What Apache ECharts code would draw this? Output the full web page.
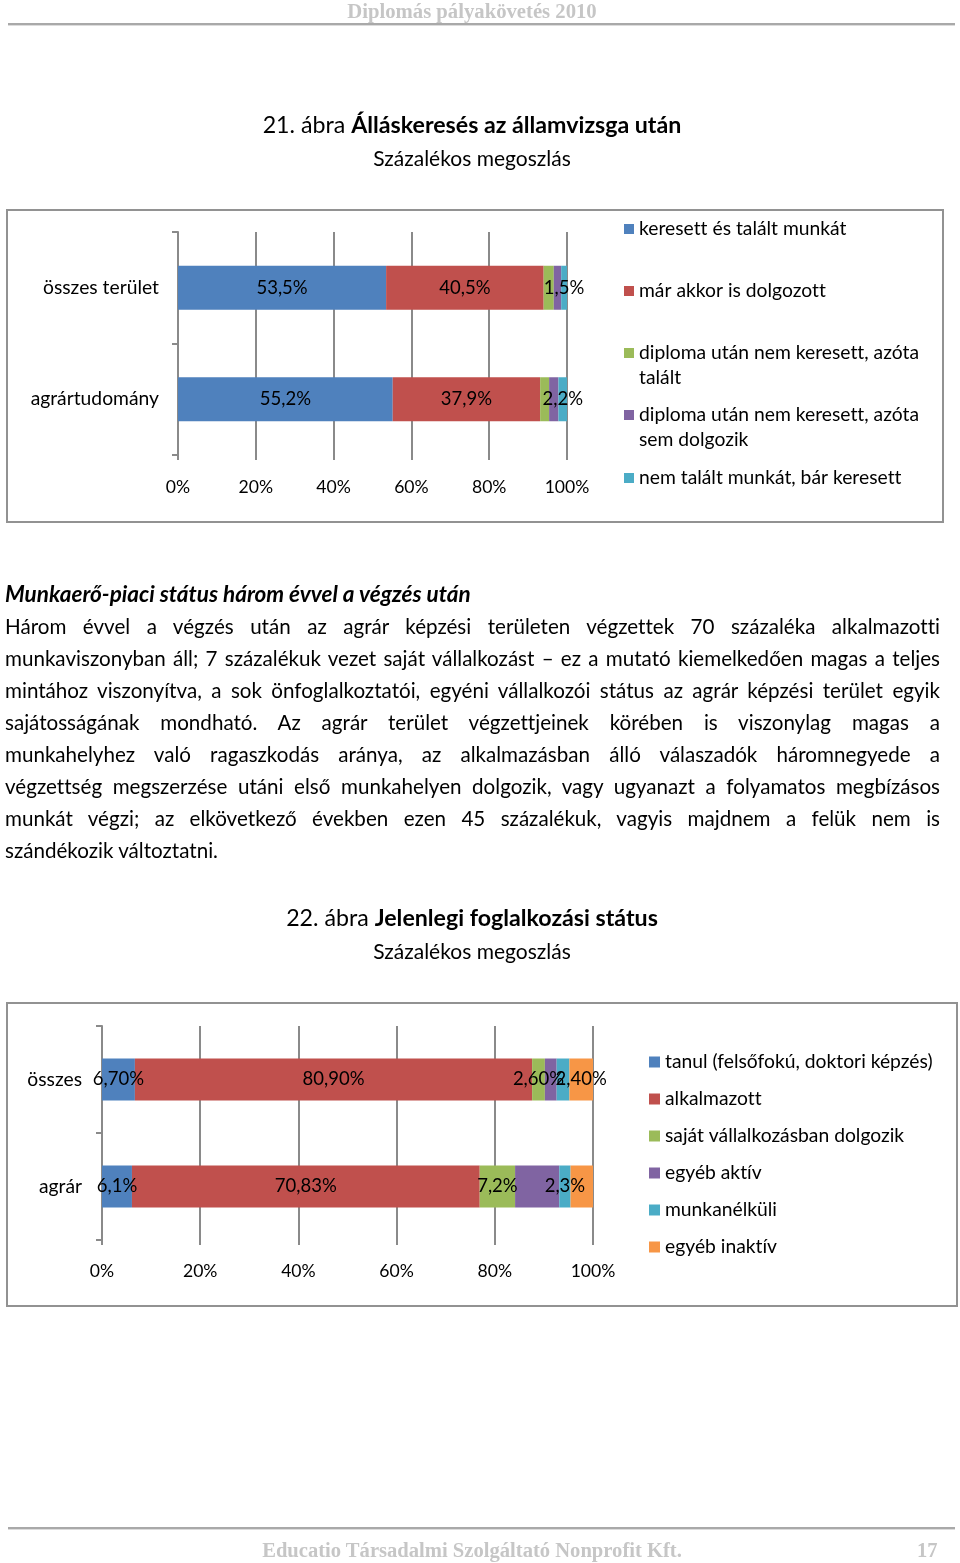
<!DOCTYPE html>
<html>
<head>
<meta charset="utf-8">
<script src="https://cdn.jsdelivr.net/npm/echarts@6/dist/echarts.min.js"></script>
<style>
  html, body { margin: 0; padding: 0; background: #fff; }
  #page { position: relative; width: 960px; height: 1563px; overflow: hidden; font-family: Lato, "Noto Sans", sans-serif; color: #000; font-variant-ligatures: none; }
  #chart { position: absolute; left: 0; top: 0; width: 960px; height: 1563px; }
  .t { position: absolute; white-space: nowrap; }
  .c { left: 0; width: 944px; text-align: center; }
  .box { position: absolute; border: 2px solid #929292; box-sizing: border-box; }
  .hr { position: absolute; left: 8px; width: 947px; height: 2px; background: #a9a9a9; border-bottom: 1px solid #dcdcdc; }
  .serif { font-family: "Liberation Serif", "DejaVu Serif", serif; font-weight: bold; color: #c6c6c6; }
  .pl { position: absolute; left: 5px; width: 935px; height: 32px; line-height: 32px; font-size: 20.6px; white-space: nowrap; text-align: justify; text-align-last: justify; }
</style>
</head>
<body>
<div id="page">
  <div class="box" style="left:6px;top:209px;width:938px;height:314px;"></div>
  <div class="box" style="left:6px;top:1002px;width:952px;height:305px;"></div>
  <div id="chart"></div>

  <div class="t c serif" style="top:0px;height:22px;line-height:22px;font-size:20.7px;">Diplomás pályakövetés 2010</div>
  <div class="hr" style="top:23px;"></div>

  <div class="t c" style="top:110px;height:28px;line-height:28px;font-size:23.2px;">21. ábra <b>Álláskeresés az államvizsga után</b></div>
  <div class="t c" style="top:144px;height:28px;line-height:28px;font-size:21px;">Százalékos megoszlás</div>

  <div class="t" style="left:5px;top:578px;height:32px;line-height:32px;font-size:22.5px;font-weight:bold;font-style:italic;">Munkaerő-piaci státus három évvel a végzés után</div>
  <div id="para"></div>

  <div class="t c" style="top:903px;height:28px;line-height:28px;font-size:23.2px;">22. ábra <b>Jelenlegi foglalkozási státus</b></div>
  <div class="t c" style="top:937px;height:28px;line-height:28px;font-size:21px;">Százalékos megoszlás</div>

  <div class="hr" style="top:1527px;"></div>
  <div class="t c serif" style="top:1538px;height:24px;line-height:24px;font-size:20.6px;">Educatio Társadalmi Szolgáltató Nonprofit Kft.</div>
  <div class="t serif" style="left:917px;top:1538px;height:24px;line-height:24px;font-size:20.6px;">17</div>
</div>
<script>
// ---------- text of the page ----------
const paragraphLines = [
  'Három évvel a végzés után az agrár képzési területen végzettek 70 százaléka alkalmazotti',
  'munkaviszonyban áll; 7 százalékuk vezet saját vállalkozást – ez a mutató kiemelkedően magas a teljes',
  'mintához viszonyítva, a sok önfoglalkoztatói, egyéni vállalkozói státus az agrár képzési terület egyik',
  'sajátosságának mondható. Az agrár terület végzettjeinek körében is viszonylag magas a',
  'munkahelyhez való ragaszkodás aránya, az alkalmazásban álló válaszadók háromnegyede a',
  'végzettség megszerzése utáni első munkahelyen dolgozik, vagy ugyanazt a folyamatos megbízásos',
  'munkát végzi; az elkövetkező években ezen 45 százalékuk, vagyis majdnem a felük nem is',
  'szándékozik változtatni.'
];

// ---------- chart 21 data ----------
const cats1 = ['összes terület', 'agrártudomány'];
const names1 = [
  'keresett és talált munkát',
  'már akkor is dolgozott',
  'diploma után nem keresett, azóta talált',
  'diploma után nem keresett, azóta sem dolgozik',
  'nem talált munkát, bár keresett'
];
const legendLines1 = [
  ['keresett és talált munkát'],
  ['már akkor is dolgozott'],
  ['diploma után nem keresett, azóta', 'talált'],
  ['diploma után nem keresett, azóta', 'sem dolgozik'],
  ['nem talált munkát, bár keresett']
];
const found1 = [53.5, 55.2];
const working1 = [40.5, 37.9];
const notSearchedFound1 = [2.6, 2.3];
const notSearchedNotWorking1 = [1.9, 2.4];
const notFound1 = [1.5, 2.2];
const labelled1 = [true, true, false, false, true];

// ---------- chart 22 data ----------
const cats2 = ['összes', 'agrár'];
const names2 = [
  'tanul (felsőfokú, doktori képzés)',
  'alkalmazott',
  'saját vállalkozásban dolgozik',
  'egyéb aktív',
  'munkanélküli',
  'egyéb inaktív'
];
const studying2 = [6.7, 6.1];
const employed2 = [80.9, 70.83];
const ownBusiness2 = [2.6, 7.2];
const otherActive2 = [2.4, 9.0];
const unemployed2 = [2.6, 2.3];
const otherInactive2 = [4.8, 4.57];
const labels2 = [
  ['6,70%', '6,1%'],
  ['80,90%', '70,83%'],
  ['2,60%', '7,2%'],
  ['', ''],
  ['', '2,3%'],
  ['2,40%', '']
];

const tickValues = [0, 20, 40, 60, 80, 100];
const colors = ['#4F81BD', '#C0504D', '#9BBB59', '#8064A2', '#4BACC6', '#F79646'];

// ---------- paragraph ----------
const para = document.getElementById('para');
paragraphLines.forEach((line, i) => {
  const d = document.createElement('div');
  d.className = 'pl';
  d.style.top = (610 + i * 32) + 'px';
  if (i === paragraphLines.length - 1) { d.style.textAlign = 'left'; d.style.textAlignLast = 'left'; }
  d.textContent = line;
  para.appendChild(d);
});
// fit lines that are too long
document.querySelectorAll('.pl').forEach(d => {
  let ls = 0;
  while (d.scrollWidth > 935 && ls > -1.5) { ls -= 0.05; d.style.letterSpacing = ls + 'px'; }
});

// ---------- chart ----------
const font = 'Lato';
const gridColor = '#8a8a8a';
const textSize = 19.3;
const numSize = 18.5;
const tickSize = 17.6;
const vals1 = [found1, working1, notSearchedFound1, notSearchedNotWorking1, notFound1];
const vals2 = [studying2, employed2, ownBusiness2, otherActive2, unemployed2, otherInactive2];

function fmt1(v) { return v.toFixed(1).replace('.', ',') + '%'; }

function xAxisOf(grid, margin) {
  return {
    type: 'value', gridIndex: grid, min: 0, max: 100, interval: 20,
    axisLine: { show: false },
    axisTick: { show: true, length: 5, lineStyle: { color: gridColor, width: 2 } },
    splitLine: { show: true, lineStyle: { color: gridColor, width: 2 } },
    axisLabel: { formatter: v => v + '%', color: '#000', fontFamily: font, fontSize: tickSize, margin: margin, customValues: tickValues }
  };
}
function yAxisOf(grid, cats, margin) {
  return {
    type: 'category', gridIndex: grid, data: cats, inverse: true,
    axisLine: { show: true, lineStyle: { color: gridColor, width: 2 } },
    axisTick: { show: true, length: 6, lineStyle: { color: gridColor, width: 2 } },
    axisLabel: { color: '#000', fontFamily: font, fontSize: textSize, margin: margin }
  };
}

const series = [];
vals1.forEach((arr, k) => {
  series.push({
    type: 'bar', name: names1[k], stack: 's1', xAxisIndex: 0, yAxisIndex: 0,
    data: arr, barWidth: 44, itemStyle: { color: colors[k] },
    label: { show: labelled1[k], position: 'inside', color: '#000', fontFamily: font, fontSize: numSize,
             formatter: p => fmt1(p.value) },
    emphasis: { disabled: true }, animation: false
  });
});
vals2.forEach((arr, k) => {
  series.push({
    type: 'bar', name: names2[k], stack: 's2', xAxisIndex: 1, yAxisIndex: 1,
    data: arr, barWidth: 42, itemStyle: { color: colors[k] },
    label: { show: true, position: 'inside', color: '#000', fontFamily: font, fontSize: numSize,
             formatter: p => labels2[k][p.dataIndex] },
    emphasis: { disabled: true }, animation: false
  });
});

// legends for chart 21: one per item, so each row sits where the reference has it
const legendRows1 = [229, 291, 353, 415, 478];
const legends = names1.map((n, k) => {
  const twoLines = legendLines1[k].length > 1;
  return {
    data: [{ name: n, icon: twoLines ? 'path://M0,0L10,0L10,10L0,10ZM10,35' : 'rect' }],
    left: 624, top: legendRows1[k] - 12.5, padding: 0,
    itemWidth: 10, itemHeight: twoLines ? 35 : 10,
    selectedMode: false,
    formatter: name => legendLines1[names1.indexOf(name)].join('\n'),
    textStyle: { color: '#000', fontFamily: font, fontSize: textSize, lineHeight: 25 }
  };
});
legends.push({
  data: names2.map(n => ({ name: n, icon: 'rect' })),
  orient: 'vertical', left: 649, top: 1062 - 11, padding: 0,
  itemWidth: 11, itemHeight: 11, itemGap: 15, selectedMode: false,
  textStyle: { color: '#000', fontFamily: font, fontSize: textSize, lineHeight: 22 }
});

const chart = echarts.init(document.getElementById('chart'), null, { renderer: 'canvas' });
chart.setOption({
  backgroundColor: 'transparent',
  animation: false,
  grid: [
    { left: 178, top: 232, width: 389, height: 223, containLabel: false },
    { left: 102, top: 1026, width: 491, height: 214, containLabel: false }
  ],
  xAxis: [xAxisOf(0, 23), xAxisOf(1, 22)],
  yAxis: [yAxisOf(0, cats1, 19), yAxisOf(1, cats2, 20)],
  legend: legends,
  series: series
});
</script>
</body>
</html>
